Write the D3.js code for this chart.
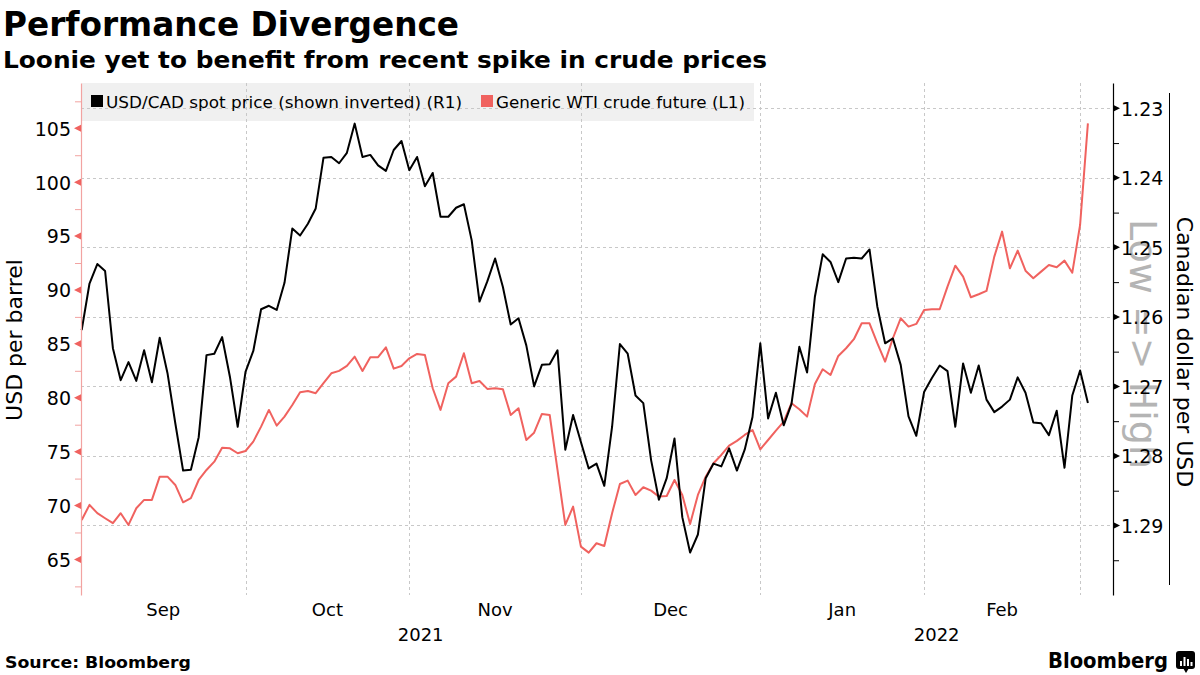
<!DOCTYPE html>
<html><head><meta charset="utf-8">
<script src="https://cdn.jsdelivr.net/npm/d3@7"></script>
<style>
body{margin:0;background:#fff}
svg{display:block}
text{font-family:"DejaVu Sans",Verdana,sans-serif}
</style>
</head><body>
<svg id="chart" width="1200" height="675"></svg>
<script>
// ---------- data ----------
const firstDay = new Date(2021, 8, 1);   // Sep 1 2021
const lastDay  = new Date(2022, 2, 1);   // Mar 1 2022
const usdcadSpot = [
1.2619,1.2552,1.2524,1.2534,1.2645,1.2691,1.2665,1.2692,1.2648,1.2694,
1.2630,1.2681,1.2753,1.2821,1.2820,1.2773,1.2655,1.2653,1.2629,1.2686,
1.2758,1.2679,1.2649,1.2589,1.2584,1.2590,1.2551,1.2473,1.2483,1.2466,
1.2444,1.2371,1.2370,1.2379,1.2364,1.2322,1.2370,1.2367,1.2382,1.2390,
1.2360,1.2347,1.2389,1.2370,1.2412,1.2393,1.2456,1.2456,1.2443,1.2438,
1.2490,1.2578,1.2549,1.2516,1.2557,1.2611,1.2602,1.2641,1.2700,1.2669,
1.2668,1.2648,1.2791,1.2741,1.2780,1.2818,1.2811,1.2843,1.2758,1.2639,
1.2653,1.2713,1.2724,1.2806,1.2863,1.2832,1.2775,1.2888,1.2939,1.2913,
1.2832,1.2811,1.2815,1.2789,1.2821,1.2791,1.2744,1.2638,1.2746,1.2709,
1.2756,1.2725,1.2643,1.2680,1.2571,1.2510,1.2521,1.2550,1.2516,1.2515,
1.2516,1.2503,1.2585,1.2638,1.2631,1.2669,1.2743,1.2771,1.2708,1.2688,
1.2670,1.2678,1.2758,1.2667,1.2709,1.2670,1.2719,1.2737,1.2729,1.2719,
1.2687,1.2709,1.2752,1.2753,1.2770,1.2735,1.2817,1.2713,1.2677,1.2724];
const wtiFuture = [
68.66,70.06,69.29,68.82,68.36,69.29,68.20,69.75,70.52,70.52,
72.68,72.68,71.91,70.30,70.68,72.37,73.30,74.07,75.37,75.31,
74.85,75.06,75.93,77.32,78.87,77.41,78.25,79.33,80.51,80.63,
80.42,81.35,82.27,82.49,82.95,83.81,82.49,83.76,83.76,84.68,
82.70,82.95,83.66,84.06,83.97,80.88,78.87,81.35,81.96,84.13,
81.35,81.56,80.82,80.88,80.79,78.40,79.03,76.08,76.76,78.50,
78.40,73.30,68.20,69.90,66.19,65.63,66.50,66.25,69.29,72.00,
72.31,70.98,71.70,71.38,70.83,70.89,72.37,70.98,68.29,70.98,
72.68,73.92,74.69,75.56,76.00,76.55,77.01,75.22,76.08,76.95,
77.78,79.49,78.93,78.25,81.28,82.64,82.11,83.88,84.59,85.43,
86.91,86.91,85.06,83.35,85.52,87.37,86.60,86.85,88.14,88.21,
88.21,90.31,92.25,91.23,89.32,89.60,89.91,93.09,95.41,92.01,
93.65,91.79,91.09,91.70,92.32,92.11,92.72,91.60,96.03,105.46];
const leftTicks  = [65,70,75,80,85,90,95,100,105];
const leftMinor  = [62.5,67.5,72.5,77.5,82.5,87.5,92.5,97.5,102.5,107.5];
const rightTicks = [1.23,1.24,1.25,1.26,1.27,1.28,1.29];
const rightMinor = [1.235,1.245,1.255,1.265,1.275,1.285,1.295];
const monthNames = ["Sep","Oct","Nov","Dec","Jan","Feb"];
const yearNames  = ["2021","2022"];
const seriesNames = ["USD/CAD spot price (shown inverted) (R1)","Generic WTI crude future (L1)"];

const RED = "#f0625f", BLACK = "#000";

// trading days (weekdays)
const days = d3.timeDay.range(firstDay, d3.timeDay.offset(lastDay,1)).filter(d => d.getDay() % 6 !== 0);

const svg = d3.select("#chart");
svg.append("rect").attr("width",1200).attr("height",675).attr("fill","#fff");

const L = 81, R = 1113, T = 83, B = 595;
const x  = d3.scaleLinear().domain([0, days.length-1]).range([81.7, 1087.9]);
const yL = d3.scaleLinear().domain([61.7, 109.2]).range([B, T]);
const yR = d3.scaleLinear().domain([1.22636, 1.3]).range([T, B]);

// titles
svg.append("text").attr("x",3).attr("y",36).attr("font-size",33).attr("font-weight","bold")
  .attr("textLength",456).attr("lengthAdjust","spacingAndGlyphs").text("Performance Divergence");
svg.append("text").attr("x",3).attr("y",68).attr("font-size",23).attr("font-weight","bold")
  .attr("textLength",764).attr("lengthAdjust","spacingAndGlyphs").text("Loonie yet to benefit from recent spike in crude prices");

// legend background
svg.append("rect").attr("x",L+1).attr("y",T).attr("width",672).attr("height",38).attr("fill","#f0f0f0");

// month boundaries = last trading day of each month
const monthEnds = [];
days.forEach((d,i) => { if (i < days.length-1 && days[i+1].getMonth() !== d.getMonth()) monthEnds.push(i); });

// gridlines
const grid = svg.append("g").attr("stroke","#c8c8c8").attr("stroke-width",1).attr("stroke-dasharray","3,3");
rightTicks.forEach(t => grid.append("line").attr("x1",L).attr("x2",R).attr("y1",Math.round(yR(t))+0.5).attr("y2",Math.round(yR(t))+0.5));
monthEnds.forEach(i => grid.append("line").attr("x1",Math.round(x(i))+0.5).attr("x2",Math.round(x(i))+0.5).attr("y1",T).attr("y2",B));

// legend items
const lg = svg.append("g");
lg.append("rect").attr("x",91).attr("y",95).attr("width",12).attr("height",12).attr("fill",BLACK);
lg.append("text").attr("x",106).attr("y",108).attr("font-size",16).attr("textLength",356).attr("lengthAdjust","spacingAndGlyphs").text(seriesNames[0]);
lg.append("rect").attr("x",481).attr("y",95).attr("width",12).attr("height",12).attr("fill",RED);
lg.append("text").attr("x",496).attr("y",108).attr("font-size",16).attr("textLength",249).attr("lengthAdjust","spacingAndGlyphs").text(seriesNames[1]);

// lines
const lineR = d3.line().x((d,i)=>x(i)).y(d=>yR(d));
const lineL = d3.line().x((d,i)=>x(i)).y(d=>yL(d));
svg.append("path").datum(wtiFuture).attr("d",lineL).attr("fill","none").attr("stroke",RED).attr("stroke-width",2).attr("stroke-linejoin","round");
svg.append("path").datum(usdcadSpot).attr("d",lineR).attr("fill","none").attr("stroke",BLACK).attr("stroke-width",2).attr("stroke-linejoin","round");

// ghost annotation
svg.append("text").attr("transform","translate(1130,344) rotate(90)").attr("text-anchor","middle")
  .attr("font-size",38).attr("fill","#b4b4b4").text("Low => High");

// left axis
const axL = svg.append("g").attr("transform",`translate(${L},0)`)
  .call(d3.axisLeft(yL).tickValues(leftTicks).tickSize(0).tickPadding(10).tickSizeOuter(0));
axL.select(".domain").attr("stroke","#f2a3a1").attr("stroke-width",1.2);
axL.selectAll("text").attr("font-size",19).attr("font-family","'DejaVu Sans',Verdana,sans-serif").attr("fill","#000").attr("dy","0.36em");
const axLm = svg.append("g").attr("transform",`translate(${L},0)`)
  .call(d3.axisLeft(yL).tickValues(leftMinor).tickSize(6).tickFormat("").tickSizeOuter(0));
axLm.select(".domain").remove();
axLm.selectAll("line").attr("stroke","#f2a3a1");
leftTicks.forEach(t => svg.append("path").attr("d",`M${L},${yL(t)-3.5}L${L-7},${yL(t)}L${L},${yL(t)+3.5}Z`).attr("fill",RED));

// right axis
const axR = svg.append("g").attr("transform",`translate(${R},0)`)
  .call(d3.axisRight(yR).tickValues(rightTicks).tickSize(0).tickPadding(8).tickSizeOuter(0).tickFormat(d3.format(".2f")));
axR.select(".domain").attr("stroke","#000").attr("stroke-width",1.2);
axR.selectAll("text").attr("font-size",19).attr("font-family","'DejaVu Sans',Verdana,sans-serif").attr("fill","#000").attr("dy","0.36em");
const axRm = svg.append("g").attr("transform",`translate(${R},0)`)
  .call(d3.axisRight(yR).tickValues(rightMinor).tickSize(6).tickFormat("").tickSizeOuter(0));
axRm.select(".domain").remove();
axRm.selectAll("line").attr("stroke","#000");
rightTicks.forEach(t => svg.append("path").attr("d",`M${R},${yR(t)-3.5}L${R+7},${yR(t)}L${R},${yR(t)+3.5}Z`).attr("fill","#000"));

// axis titles
svg.append("text").attr("transform","translate(22,340) rotate(-90)").attr("text-anchor","middle")
  .attr("font-size",22).text("USD per barrel");
svg.append("line").attr("x1",1169.5).attr("x2",1169.5).attr("y1",93).attr("y2",585).attr("stroke","#000");
svg.append("text").attr("transform","translate(1177,352) rotate(90)").attr("text-anchor","middle")
  .attr("font-size",22).text("Canadian dollar per USD");

// x labels
const bounds = [L, ...monthEnds.map(i => x(i))];
monthNames.forEach((m,k) => {
  const cx = (bounds[k] + bounds[k+1]) / 2;
  svg.append("text").attr("x",cx).attr("y",616).attr("text-anchor","middle").attr("font-size",18).text(m);
});
const yearBound = x(monthEnds[3]);
svg.append("text").attr("x",(L+yearBound)/2).attr("y",641).attr("text-anchor","middle").attr("font-size",18).text(yearNames[0]);
svg.append("text").attr("x",(yearBound+R)/2).attr("y",641).attr("text-anchor","middle").attr("font-size",18).text(yearNames[1]);

// footer
svg.append("text").attr("x",5).attr("y",668).attr("font-size",16).attr("font-weight","bold")
  .attr("textLength",186).attr("lengthAdjust","spacingAndGlyphs").text("Source: Bloomberg");
svg.append("text").attr("x",1048).attr("y",668).attr("font-size",21).attr("font-weight","bold")
  .attr("textLength",120).attr("lengthAdjust","spacingAndGlyphs").text("Bloomberg");
const ic = svg.append("g");
ic.append("rect").attr("x",1176).attr("y",651).attr("width",19).attr("height",18).attr("rx",3).attr("fill","#000");
ic.append("path").attr("d","M1183,668 L1186,673 L1189,668 Z").attr("fill","#000");
[[1180,661,2,5],[1183.5,657,2,9],[1187,659,2,7],[1190.5,662,2,4]].forEach(b =>
  ic.append("rect").attr("x",b[0]).attr("y",b[1]).attr("width",b[2]).attr("height",b[3]).attr("fill","#fff"));
</script>
</body></html>
